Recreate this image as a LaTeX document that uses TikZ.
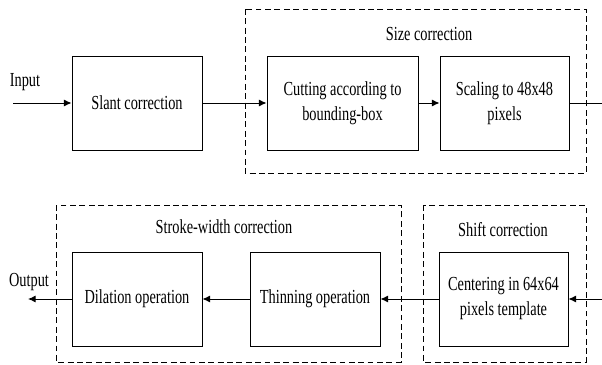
\documentclass[tikz,border=0pt]{standalone}
\usepackage{fontspec}
\setmainfont{Liberation Serif}[FakeStretch=0.72]
\usetikzlibrary{arrows.meta}

\begin{document}
\begin{tikzpicture}[x=0.03cm,y=-0.03cm,>={Latex[length=6.5pt,width=6pt]},
    every node/.style={font=\fontsize{17}{21.3}\selectfont},
    stage/.style={draw,line width=0.8pt,align=center,inner sep=0pt,
      minimum height=2.82cm},
    group/.style={draw,line width=0.7pt,dash pattern=on 5pt off 3pt},
    flow/.style={->,line width=0.8pt}]
    \path[use as bounding box] (0,0) rectangle (602,365);
    % Groups.
    \draw[group] (245,9) rectangle (586,173);
    \draw[group] (56,205) rectangle (401,362);
    \draw[group] (423,205) rectangle (586,362);
    \node (sizelabel) at (429,34) {Size correction};
    \node (strokelabel) at (224,227) {Stroke-width correction};
    \node (shiftlabel) at (503,230) {Shift correction};
    % Stages.
    \node[stage,minimum width=3.9cm] (slant) at (137,103) {Slant correction};
    \node[stage,minimum width=4.53cm] (cut) at (342.5,103) {Cutting according to\\bounding-box};
    \node[stage,minimum width=3.87cm] (scale) at (504.5,103) {Scaling to 48x48\\pixels};
    \node[stage,minimum width=3.87cm] (center) at (503.5,299) {Centering in 64x64\\pixels template};
    \node[stage,minimum width=3.9cm] (thin) at (315,299) {Thinning operation};
    \node[stage,minimum width=3.9cm] (dilate) at (137,299) {Dilation operation};
    % Ends.
    \node (input) at (25,82) {Input};
    \node (output) at (29,282) {Output};
    \coordinate (instart) at (13,103);
    \coordinate (outend) at (28,299);
    \coordinate (rightout) at (602,103);
    \coordinate (rightin) at (602,299);
    % Connectors.
    \draw[flow] (instart) -- (slant);
    \draw[flow] (slant) -- (cut);
    \draw[flow] (cut) -- (scale);
    \draw[line width=0.8pt] (scale) -- (rightout);
    \draw[flow] (rightin) -- (center);
    \draw[flow] (center) -- (thin);
    \draw[flow] (thin) -- (dilate);
    \draw[flow] (dilate) -- (outend);
\end{tikzpicture}
\end{document}
